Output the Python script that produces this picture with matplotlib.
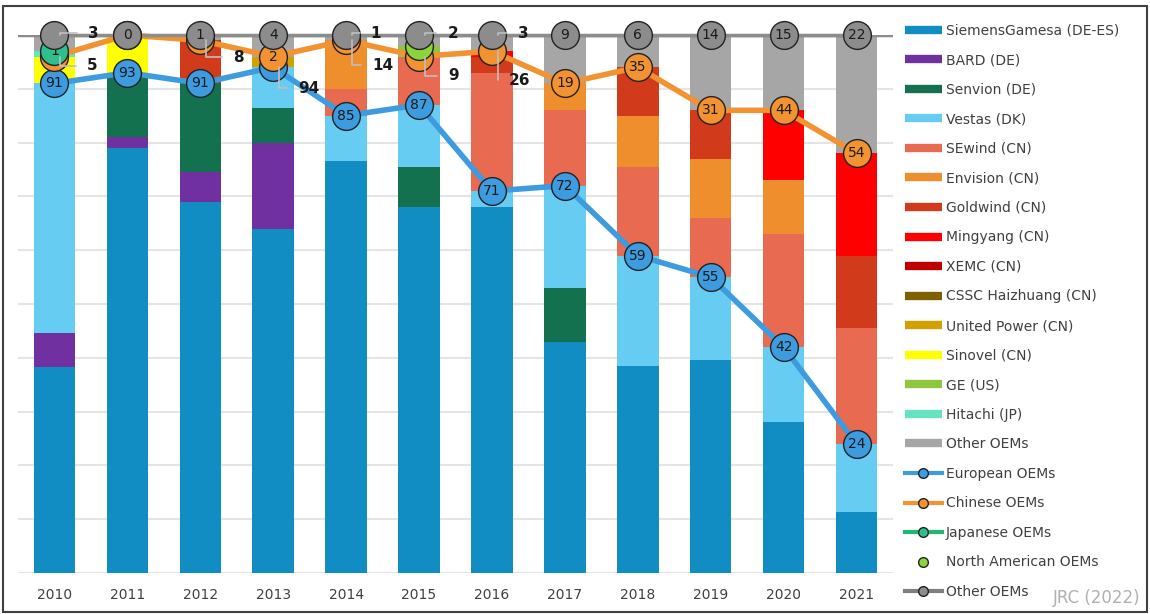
import numpy as np
from matplotlib import pyplot as plt
from matplotlib.lines import Line2D
from matplotlib.patches import Rectangle

##############################################################################
# Donnees (parts de marche en %)
##############################################################################
years = [2010, 2011, 2012, 2013, 2014, 2015, 2016, 2017, 2018, 2019, 2020, 2021]

siemens  = [38.3, 79, 69, 64, 76.5, 68, 68, 43, 38.5, 39.5, 28, 11.3]
bard     = [6.3, 2, 5.5, 16, 0, 0, 0, 0, 0, 0, 0, 0]
senvion  = [0, 12, 16.5, 6.5, 0, 7.5, 0, 10, 0, 0, 0, 0]
vestas   = [46.4, 0, 0, 7.5, 8.5, 11.5, 3, 19, 20.5, 15.5, 14, 12.7]
sewind   = [0, 0, 0, 0, 5, 9, 22, 14, 16.5, 11, 21, 21.5]
envision = [0, 0, 0, 0, 9, 0, 0, 5, 9.5, 11, 10, 0]
goldwind = [0, 0, 8, 0, 0, 0, 3, 0, 9, 9, 0, 13.5]
mingyang = [0, 0, 0, 0, 0, 0, 1, 0, 0, 0, 13, 19]
xemc     = [0, 0, 0, 0, 0, 0, 0, 0, 0, 0, 0, 0]
cssc     = [0, 0, 0, 0, 0, 0, 0, 0, 0, 0, 0, 0]
united   = [0, 0, 0, 2, 0, 0, 0, 0, 0, 0, 0, 0]
sinovel  = [5, 7, 0, 0, 0, 0, 0, 0, 0, 0, 0, 0]
ge       = [0, 0, 0, 0, 0, 2, 0, 0, 0, 0, 0, 0]
hitachi  = [1, 0, 0, 0, 0, 0, 0, 0, 0, 0, 0, 0]
others   = [3, 0, 1, 4, 1, 2, 3, 9, 6, 14, 14, 22]

# parts par region (etiquettes des cercles)
eu_share = [91, 93, 91, 94, 85, 87, 71, 72, 59, 55, 42, 24]
cn_share = [5, 7, 8, 2, 14, 9, 26, 19, 35, 31, 44, 54]
jp_share = [1, 0, 0, 0, 0, 0, 0, 0, 0, 0, 0, 0]
na_share = [0, 0, 0, 0, 0, 2, 0, 0, 0, 0, 0, 0]
ot_share = [3, 0, 1, 4, 1, 2, 3, 9, 6, 14, 15, 22]

oem_names = ['SiemensGamesa (DE-ES)', 'BARD (DE)', 'Senvion (DE)', 'Vestas (DK)',
             'SEwind (CN)', 'Envision (CN)', 'Goldwind (CN)', 'Mingyang (CN)',
             'XEMC (CN)', 'CSSC Haizhuang (CN)', 'United Power (CN)', 'Sinovel (CN)',
             'GE (US)', 'Hitachi (JP)', 'Other OEMs']
oem_values = [siemens, bard, senvion, vestas, sewind, envision, goldwind, mingyang,
              xemc, cssc, united, sinovel, ge, hitachi, others]
oem_colors = ['#118DC4', '#7030A0', '#137150', '#66CCF2', '#E86A50', '#EF8E2C',
              '#D13B1B', '#FF0000', '#C00000', '#7F6000', '#D4A000', '#FFFF00',
              '#8DC63F', '#66E3C0', '#A6A6A6']

##############################################################################
# Figure
##############################################################################
W, H = 1150, 614
fig = plt.figure(figsize=(W / 100, H / 100), dpi=100)
ax = fig.add_axes([18 / W, 41 / H, 875 / W, 538 / H])

x = np.arange(len(years))
bottom = np.zeros(len(years))
for vals, col in zip(oem_values, oem_colors):
    ax.bar(x, vals, 0.57, bottom=bottom, color=col, zorder=2)
    bottom = bottom + np.array(vals)

ax.set_xlim(-0.5, 11.5)
ax.set_ylim(0, 100)
ax.set_yticks(range(0, 101, 10))
ax.yaxis.grid(True, color='#E4E4E4', lw=1.5, zorder=0)
ax.set_axisbelow(True)
ax.set_xticks(x)
ax.set_xticklabels([str(a) for a in years], fontsize=10, color='#404040')
ax.tick_params(left=False, bottom=False, labelleft=False, pad=7)
for s in ax.spines.values():
    s.set_visible(False)

ax.axhline(100, color='#8C8C8C', lw=2.5, zorder=3)

# lignes cumulees
eu = np.array(eu_share, dtype=float)
cn = eu + np.array(cn_share)
jp = cn + np.array(jp_share)
na = jp + np.array(na_share)
ot = np.minimum(na + np.array(ot_share), 100)

jp_plot = np.where(np.array(jp_share) > 0, jp, np.nan)
na_plot = np.where(np.array(na_share) > 0, na, np.nan)

series = [
    ('eu', eu, eu_share, '#3D9BE0', '#3D9BE0', 4),
    ('cn', cn, cn_share, '#F29231', '#F29231', 5),
    ('jp', jp_plot, jp_share, '#22B573', '#2DC08E', 6),
    ('na', na_plot, na_share, '#8CD43C', '#8CD43C', 7),
    ('ot', ot, ot_share, '#8C8C8C', '#8C8C8C', 8),
]

# etiquettes sorties du cercle : decalage en pixels
outside = {
    ('ot', 0): (33, 2), ('cn', 0): (32, -9),
    ('cn', 2): (32, -17),
    ('eu', 3): (30, -21),
    ('ot', 4): (24, 2), ('cn', 4): (31, -25),
    ('ot', 5): (28, 2), ('cn', 5): (29, -19),
    ('ot', 6): (26, 2), ('cn', 6): (22, -29),
}

for key, yv, lab, lcol, fcol, z in series:
    lw = 0 if key == 'na' else (2.5 if key == 'ot' else 4)
    ax.plot(x, yv, color=lcol, lw=lw, marker='o', ms=20, mfc=fcol,
            mec='#222222', mew=1, zorder=z, clip_on=False)
    for i in range(len(years)):
        if np.isnan(yv[i]) or (key in ('jp', 'na') and lab[i] == 0):
            continue
        if (key, i) in outside:
            dx, dy = outside[(key, i)]
            ax.annotate(str(lab[i]), xy=(x[i] + 0.08, yv[i]), xytext=(dx * 0.72, dy * 0.72),
                        textcoords='offset points', ha='center', va='center',
                        fontsize=11, fontweight='semibold', color='#1A1A1A',
                        arrowprops=dict(arrowstyle='-', color='#BFBFBF', lw=1.2,
                                        shrinkA=6, shrinkB=0,
                                        connectionstyle='angle,angleA=0,angleB=90'),
                        zorder=10, annotation_clip=False)
        else:
            ax.text(x[i], yv[i], str(lab[i]), ha='center', va='center',
                    fontsize=10, color='#1A1A1A', zorder=z + 0.5, clip_on=False)

# legende
handles = []
for name, col in zip(oem_names, oem_colors):
    handles.append(Line2D([], [], color=col, lw=6, solid_capstyle='butt'))
handles.append(Line2D([], [], color='#3D9BE0', lw=3, marker='o', ms=7, mfc='#3D9BE0', mec='#222222'))
handles.append(Line2D([], [], color='#F29231', lw=3, marker='o', ms=7, mfc='#F29231', mec='#222222'))
handles.append(Line2D([], [], color='#22B573', lw=3, marker='o', ms=7, mfc='#2DC08E', mec='#222222'))
handles.append(Line2D([], [], color='#8CD43C', lw=0, marker='o', ms=7, mfc='#8CD43C', mec='#222222'))
handles.append(Line2D([], [], color='#7F7F7F', lw=3, marker='o', ms=7, mfc='#8C8C8C', mec='#222222'))
labels = oem_names + ['European OEMs', 'Chinese OEMs', 'Japanese OEMs',
                      'North American OEMs', 'Other OEMs']
leg = fig.legend(handles, labels, loc='upper left', bbox_to_anchor=(892 / W, 1 - 11 / H),
                 frameon=False, fontsize=10, labelspacing=1.12, handlelength=2.7,
                 handletextpad=0.3)
for t in leg.get_texts():
    t.set_color('#404040')

fig.text(1140 / W, 16 / H, 'JRC (2022)', ha='right', va='center', fontsize=12, color='#B0B0B0')

fig.patches.append(Rectangle((3 / W, 2 / H), 1 - 6 / W, 1 - 8 / H, transform=fig.transFigure,
                             fill=False, edgecolor='#404040', lw=1.5))

plt.savefig('out.png', dpi=100)
